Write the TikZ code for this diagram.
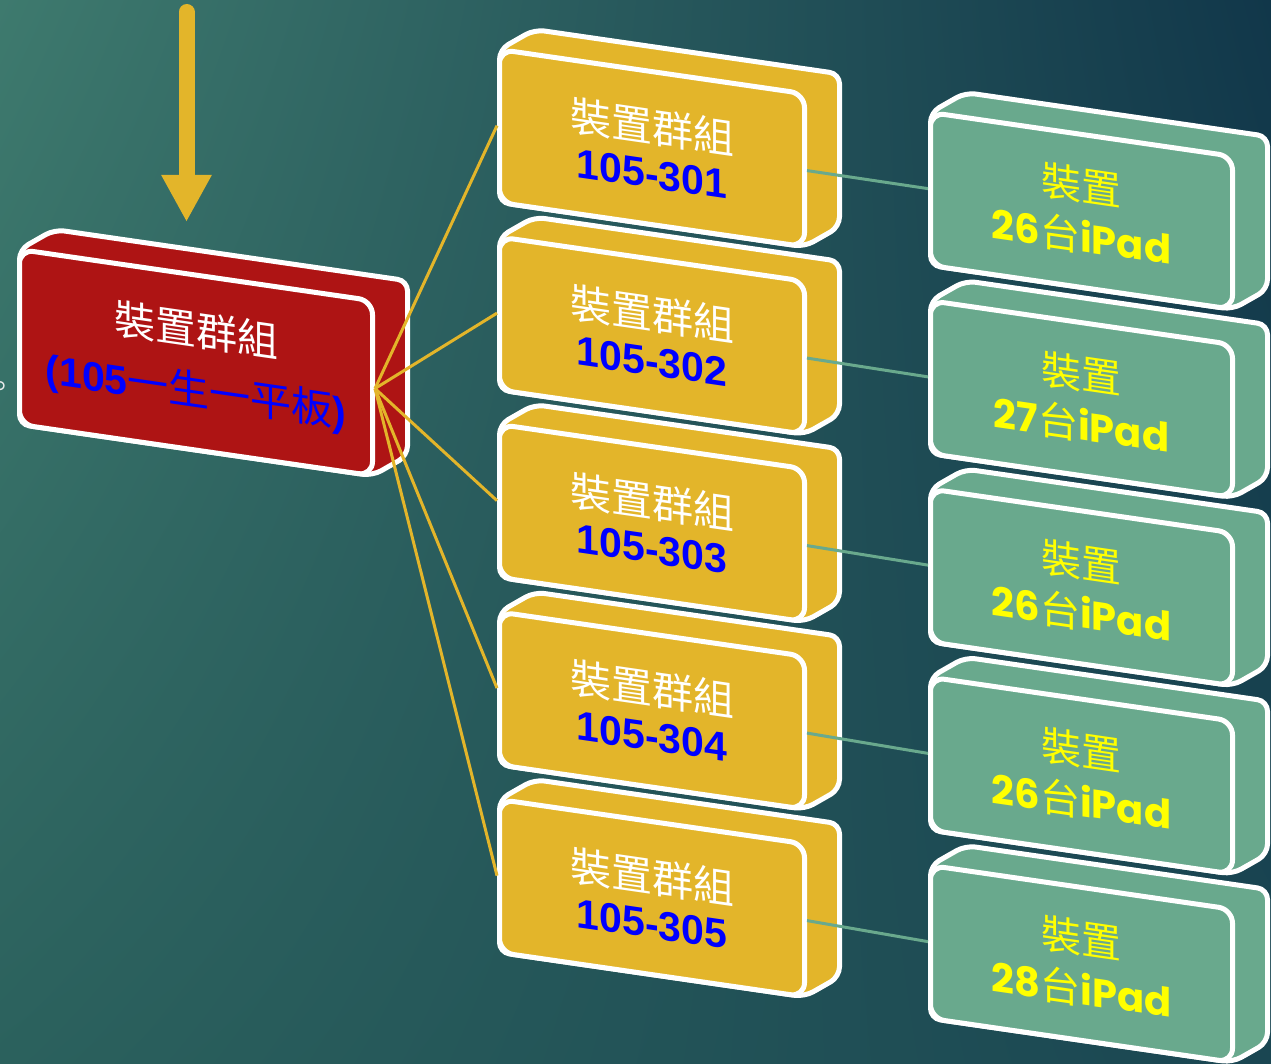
\documentclass[tikz,border=0pt]{standalone}
\usepackage{fontspec}
\setmainfont{Noto Sans CJK TC}
\newfontfamily\numfont{Liberation Sans}
\newfontfamily\padfont{Poppins}
\usepackage{tikz}
\usetikzlibrary{arrows.meta, shadings}
\definecolor{redFace}   {HTML}{AE1414}
\definecolor{goldFace}  {HTML}{E3B52A}
\definecolor{greenFace} {HTML}{69A98D}
\definecolor{textBlue}  {HTML}{0000FF}
\definecolor{textYellow}{HTML}{FFFF00}
\definecolor{bgUL}{HTML}{3E7A6E}
\definecolor{bgUR}{HTML}{11374A}
\definecolor{bgLL}{HTML}{2B615D}
\definecolor{bgLR}{HTML}{1A4652}

\tikzset{
  slabedge/.style={draw=white, line width=5pt, rounded corners=10pt},
  slabface/.style={draw=white, line width=5pt, rounded corners=14pt, inner sep=0pt,
    transform shape, align=center, text=white},
  hubface/.style={fill=redFace, font=\fontsize{41}{60}\selectfont},
  grpface/.style={fill=goldFace, font=\fontsize{41}{46}\selectfont},
  devface/.style={fill=greenFace, font=\fontsize{40}{51}\selectfont, text=textYellow},
  goldlink/.style={draw=goldFace, line width=3pt},
  greenlink/.style={draw=greenFace, line width=3pt},
}

% slab: name, x, y, width, height, face style, text
\newcommand{\drawslab}[7]{%
  \begin{scope}[shift={(#2,-#3)}, yslant=-0.145]
    \path[slabedge, #6] (0,-#5) -- (0,0) -- (35,25) -- ({#4+35},25)
      -- ({#4+35},{25-#5}) -- (#4,-#5) -- cycle;
    \node[slabface, #6, minimum width=#4, minimum height=#5] (#1) at ({#4/2},{-#5/2}) {#7};
  \end{scope}}

\begin{document}
\begin{tikzpicture}[x=1pt, y=1pt]
  \useasboundingbox (0,0) rectangle (1271,-1064);
  \shade[upper left=bgUL, upper right=bgUR, lower left=bgLL, lower right=bgLR]
    (0,0) rectangle (1271,-1064);

  % feed arrow
  \coordinate (feedtop) at (186.5,-12);
  \coordinate (feedtip) at (186.5,-222);
  \draw[draw=goldFace, line width=16pt, line cap=round,
        -{Triangle[width=47pt, length=47pt]}] (feedtop) -- (feedtip);
  \node[text=white!85!gray, font=\fontsize{30}{30}\selectfont, inner sep=0pt] (stop) at (1,-390) {。};

  % hub
  \drawslab{hub}{19.5}{249.5}{353}{175}{hubface}{裝置群組\\
    {\color{textBlue}{\numfont\bfseries(105}一生一平板{\numfont\bfseries)}}}

  % device groups
  \foreach \i/\code in {5/305,4/304,3/303,2/302,1/301} {
    \pgfmathsetmacro{\gy}{49.5+187.5*(\i-1)}
    \drawslab{grp\i}{499.5}{\gy}{305}{153}{grpface}{裝置群組\\
      {\numfont\bfseries\color{textBlue}105-\code}}
  }

  % devices
  \foreach \i/\num in {5/28,4/26,3/26,2/27,1/26} {
    \pgfmathsetmacro{\dy}{112.5+188.25*(\i-1)}
    \drawslab{dev\i}{930.5}{\dy}{302}{153}{devface}{裝置\\
      {\padfont\bfseries\num}台{\padfont\bfseries iPad}}
  }

  % links
  \foreach \i in {1,...,5} {
    \draw[goldlink] (hub.east) -- (grp\i.west);
    \draw[greenlink] (grp\i.east) -- (dev\i.west);
  }
\end{tikzpicture}
\end{document}
